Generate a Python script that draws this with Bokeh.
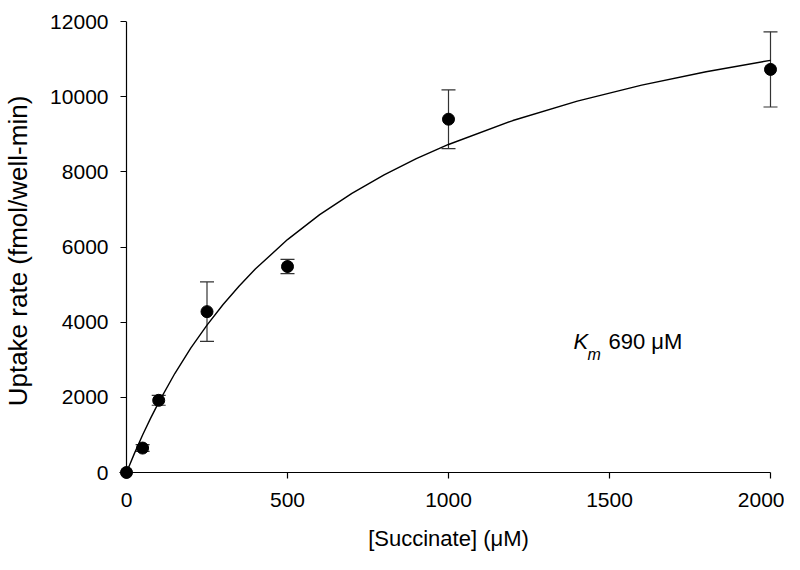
from bokeh.plotting import figure
from bokeh.models import Whisker, ColumnDataSource, Label, TeeHead, Range1d, FixedTicker
from bokeh.embed import file_html
from bokeh.resources import INLINE

# measured data
conc = [0, 50, 100, 250, 500, 1000, 2000]
rate = [0, 650, 1920, 4280, 5480, 9400, 10725]
err = [0, 90, 130, 790, 190, 780, 1000]

# fitted Michaelis-Menten curve
fit_x = [0, 25, 50, 75, 100, 150, 200, 250, 300, 350, 400, 500, 600, 700, 800, 900,
         1000, 1200, 1400, 1600, 1800, 2000]
fit_y = [0, 516, 997, 1446, 1867, 2634, 3315, 3923, 4470, 4964, 5413, 6197, 6860, 7428,
         7919, 8349, 8728, 9365, 9880, 10306, 10663, 10967]

x_ticks = [0, 500, 1000, 1500, 2000]
y_ticks = [0, 2000, 4000, 6000, 8000, 10000, 12000]

FONT = "Liberation Sans"

# frame geometry (pixels)
W, H = 784, 554
AX_LEFT, AX_RIGHT = 126, 770      # x=0 and x=2000
AX_TOP, AX_BOTTOM = 21, 472       # y=12000 and y=0
PAD = 8                           # room so markers on the axes are not clipped
TICK = 6

x0, x1 = x_ticks[0], x_ticks[-1]
y0, y1 = y_ticks[0], y_ticks[-1]
xs = (AX_RIGHT - AX_LEFT) / (x1 - x0)
ys = (AX_BOTTOM - AX_TOP) / (y1 - y0)

p = figure(width=W, height=H, output_backend="svg", toolbar_location=None,
           x_range=Range1d(x0 - PAD / xs, x1 + PAD / xs),
           y_range=Range1d(y0 - PAD / ys, y1),
           min_border_left=AX_LEFT - PAD, min_border_right=W - AX_RIGHT - PAD,
           min_border_top=AX_TOP, min_border_bottom=H - AX_BOTTOM - PAD)
p.outline_line_color = None
p.grid.visible = False

for ax in (p.xaxis[0], p.yaxis[0]):
    ax.axis_line_color = None
    ax.major_tick_line_color = "black"
    ax.major_tick_line_width = 1.2
    ax.major_tick_in = PAD
    ax.major_tick_out = TICK - PAD
    ax.minor_tick_line_color = None
    ax.major_label_text_font = FONT
    ax.major_label_text_font_size = "21px"
    ax.major_label_text_color = "black"
    ax.axis_label_text_font = FONT
    ax.axis_label_text_font_style = "normal"
    ax.axis_label_text_color = "black"

p.xaxis.ticker = FixedTicker(ticks=x_ticks)
p.yaxis.ticker = FixedTicker(ticks=y_ticks)
p.xaxis.axis_label = "[Succinate] (\u03bcM)"
p.yaxis.axis_label = "Uptake rate (fmol/well-min)"
p.xaxis.axis_label_text_font_size = "22px"
p.yaxis.axis_label_text_font_size = "26px"
p.xaxis.major_label_standoff = 12
p.yaxis.major_label_standoff = 10
p.xaxis.axis_label_standoff = 16
p.yaxis.axis_label_standoff = 14

# axis lines at x=0 / y=0, spanning the tick range
p.segment(x0=[x0, x0], y0=[y0, y0], x1=[x1, x0], y1=[y0, y1], line_color="black", line_width=1.2)

p.line(fit_x, fit_y, line_color="black", line_width=1.4)

src = ColumnDataSource(dict(x=conc, y=rate,
                            lo=[r - e for r, e in zip(rate, err)],
                            hi=[r + e for r, e in zip(rate, err)]))
w = Whisker(source=src, base="x", lower="lo", upper="hi", line_color="#333333", line_width=1.2,
            upper_head=TeeHead(size=14, line_color="#333333", line_width=1.2),
            lower_head=TeeHead(size=14, line_color="#333333", line_width=1.2))
p.add_layout(w)

p.scatter("x", "y", source=src, size=12, fill_color="black", line_color="black")

p.add_layout(Label(x=1388, y=3157, text="K", text_font=FONT, text_font_size="22px",
                   text_font_style="italic", text_color="black"))
p.add_layout(Label(x=1432, y=2917, text="m", text_font=FONT, text_font_size="16px",
                   text_font_style="italic", text_color="black"))
p.add_layout(Label(x=1497, y=3157, text="690 \u03bcM", text_font=FONT, text_font_size="22px",
                   text_color="black"))

open("out.html", "w").write(file_html(p, INLINE))
